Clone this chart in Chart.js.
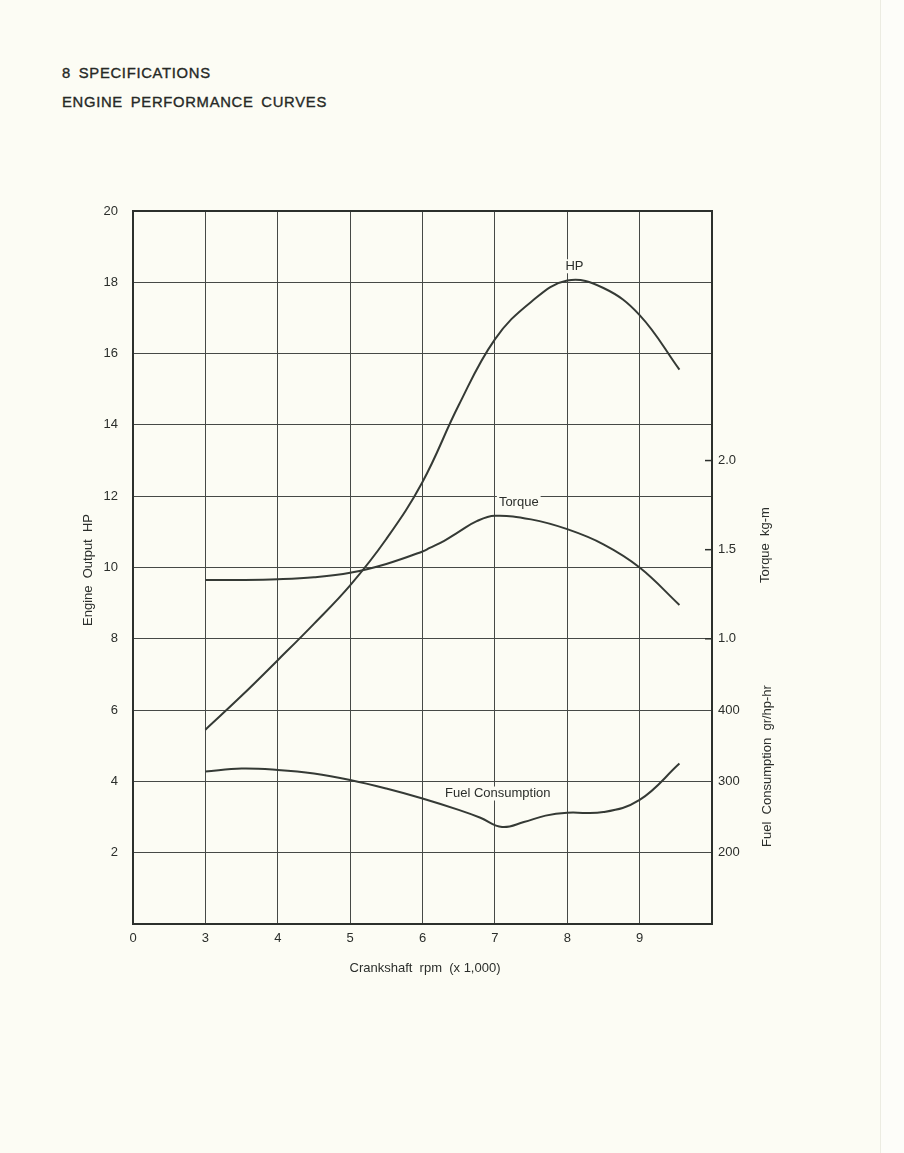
<!DOCTYPE html>
<html>
<head>
<meta charset="utf-8">
<script src="https://cdn.jsdelivr.net/npm/chart.js@4/dist/chart.umd.min.js"></script>
<style>
  html, body { margin: 0; padding: 0; }
  body { width: 904px; height: 1153px; background: #fcfcf4; position: relative; overflow: hidden;
         font-family: 'Liberation Sans', Arial, sans-serif; color: #262926; }
  .edge { position: absolute; left: 880px; top: 0; width: 24px; height: 1153px; background: #fdfdf9;
          border-left: 1px solid #ecece2; }
  .head { position: absolute; left: 62px; font-size: 14.8px; letter-spacing: 0.7px; word-spacing: 3px;
          -webkit-text-stroke: 0.35px #262926; }
  #h1 { top: 65px; }
  #h2 { top: 94px; }
  canvas { position: absolute; left: 0; top: 0; }
</style>
</head>
<body>
<div class="edge"></div>
<div class="head" id="h1">8 SPECIFICATIONS</div>
<div class="head" id="h2">ENGINE PERFORMANCE CURVES</div>
<canvas id="chart" width="904" height="1153"></canvas>
<script>
const xTickValues = [2, 3, 4, 5, 6, 7, 8, 9];
const xTickLabels = ['0', '3', '4', '5', '6', '7', '8', '9'];
const hpTicks = [2, 4, 6, 8, 10, 12, 14, 16, 18, 20];
const torqueTicks = [1.0, 1.5, 2.0];
const fuelTicks = [200, 300, 400];

const hpRpm = [3, 3.5, 4, 4.5, 5, 5.5, 6, 6.5, 7, 7.5, 8, 8.5, 9, 9.55];
const hpValues = [5.45, 6.4, 7.4, 8.42, 9.5, 10.8, 12.4, 14.55, 16.4, 17.45, 18.05, 17.84, 17.08, 15.55];

const torqueRpm = [3, 3.5, 4, 4.5, 5, 5.5, 6, 6.1, 6.3, 6.5, 6.75, 7, 7.5, 8, 8.5, 9, 9.55];
const torqueValues = [1.33, 1.33, 1.334, 1.345, 1.37, 1.42, 1.49, 1.51, 1.55, 1.6, 1.66, 1.69, 1.67, 1.615, 1.53, 1.4, 1.19];

const fuelRpm = [3, 3.5, 4, 4.5, 5, 5.5, 6, 6.5, 6.8, 7.1, 7.4, 7.7, 8, 8.5, 9, 9.55];
const fuelValues = [314, 318, 316, 311, 302, 290, 276, 260, 249, 236, 243, 252, 256, 257, 274, 325];

const INK = '#353a35';
const TEXT = '#2b2e2b';
const FONT = "'Liberation Sans', Arial, sans-serif";

function points(xs, ys) {
  return xs.map((x, i) => ({ x, y: ys[i] }));
}

function lineSet(label, xs, ys, axis) {
  return {
    label,
    data: points(xs, ys),
    yAxisID: axis,
    borderColor: INK,
    borderWidth: 2,
    pointRadius: 0,
    fill: false,
    tension: 0.4,
  };
}

// border box, right-hand scales, axis titles and curve labels
const decor = {
  id: 'decor',
  afterDraw(chart) {
    const { ctx, chartArea: a, scales } = chart;
    ctx.save();
    ctx.strokeStyle = '#2c302c';
    ctx.lineWidth = 2;
    ctx.strokeRect(a.left, a.top, a.right - a.left, a.bottom - a.top);

    ctx.fillStyle = TEXT;
    ctx.font = '13px ' + FONT;
    ctx.textAlign = 'left';
    ctx.textBaseline = 'middle';
    ctx.lineWidth = 1.5;
    torqueTicks.forEach((v) => {
      const y = scales.yT.getPixelForValue(v);
      ctx.beginPath();
      ctx.moveTo(a.right - 7, y);
      ctx.lineTo(a.right, y);
      ctx.stroke();
      ctx.fillText(v.toFixed(1), a.right + 6, y);
    });
    fuelTicks.forEach((v) => {
      const y = scales.yF.getPixelForValue(v);
      ctx.fillText(String(v), a.right + 6, y);
    });

    const rotated = (text, x, y) => {
      ctx.save();
      ctx.translate(x, y);
      ctx.rotate(-Math.PI / 2);
      ctx.textAlign = 'center';
      ctx.fillText(text, 0, 0);
      ctx.restore();
    };
    rotated('Engine  Output  HP', 88, 570);
    rotated('Torque  kg-m', 765, 545);
    rotated('Fuel  Consumption  gr/hp-hr', 767, 766);

    ctx.textAlign = 'center';
    ctx.fillText('Crankshaft  rpm  (x 1,000)', 425, 968);

    const label = (text, x, y) => {
      const w = ctx.measureText(text).width;
      ctx.fillStyle = '#fcfcf4';
      ctx.fillRect(x - w / 2 - 2, y - 7, w + 4, 14);
      ctx.fillStyle = TEXT;
      ctx.fillText(text, x, y);
    };
    label('HP', scales.x.getPixelForValue(8.1), scales.y.getPixelForValue(18.45));
    label('Torque', scales.x.getPixelForValue(7.33), scales.yT.getPixelForValue(1.765));
    label('Fuel Consumption', scales.x.getPixelForValue(7.04), scales.yF.getPixelForValue(283));
    ctx.restore();
  },
};

new Chart(document.getElementById('chart'), {
  type: 'line',
  data: {
    datasets: [
      lineSet('HP', hpRpm, hpValues, 'y'),
      lineSet('Torque', torqueRpm, torqueValues, 'yT'),
      lineSet('Fuel Consumption', fuelRpm, fuelValues, 'yF'),
    ],
  },
  options: {
    responsive: false,
    animation: false,
    layout: { padding: { left: 0, right: 192, top: 211, bottom: 0 } },
    plugins: { legend: { display: false }, tooltip: { enabled: false } },
    scales: {
      x: {
        type: 'linear',
        min: 2,
        max: 10,
        afterFit: (s) => { s.height = 229; },
        afterBuildTicks: (s) => { s.ticks = xTickValues.map((v) => ({ value: v })); },
        grid: { color: '#464946', lineWidth: 1, drawTicks: false },
        border: { display: false },
        ticks: {
          padding: 7,
          color: TEXT,
          font: { family: FONT, size: 13 },
          maxRotation: 0,
          callback: (v) => xTickLabels[xTickValues.indexOf(v)],
        },
      },
      y: {
        min: 0,
        max: 20,
        afterFit: (s) => { s.width = 133; },
        afterBuildTicks: (s) => { s.ticks = hpTicks.map((v) => ({ value: v })); },
        grid: { color: '#464946', lineWidth: 1, drawTicks: false },
        border: { display: false },
        ticks: {
          padding: 15,
          color: TEXT,
          font: { family: FONT, size: 13 },
        },
      },
      yT: { display: false, min: -0.6, max: 3.4 },
      yF: { display: false, min: 100, max: 1100 },
    },
  },
  plugins: [decor],
});
</script>
</body>
</html>
